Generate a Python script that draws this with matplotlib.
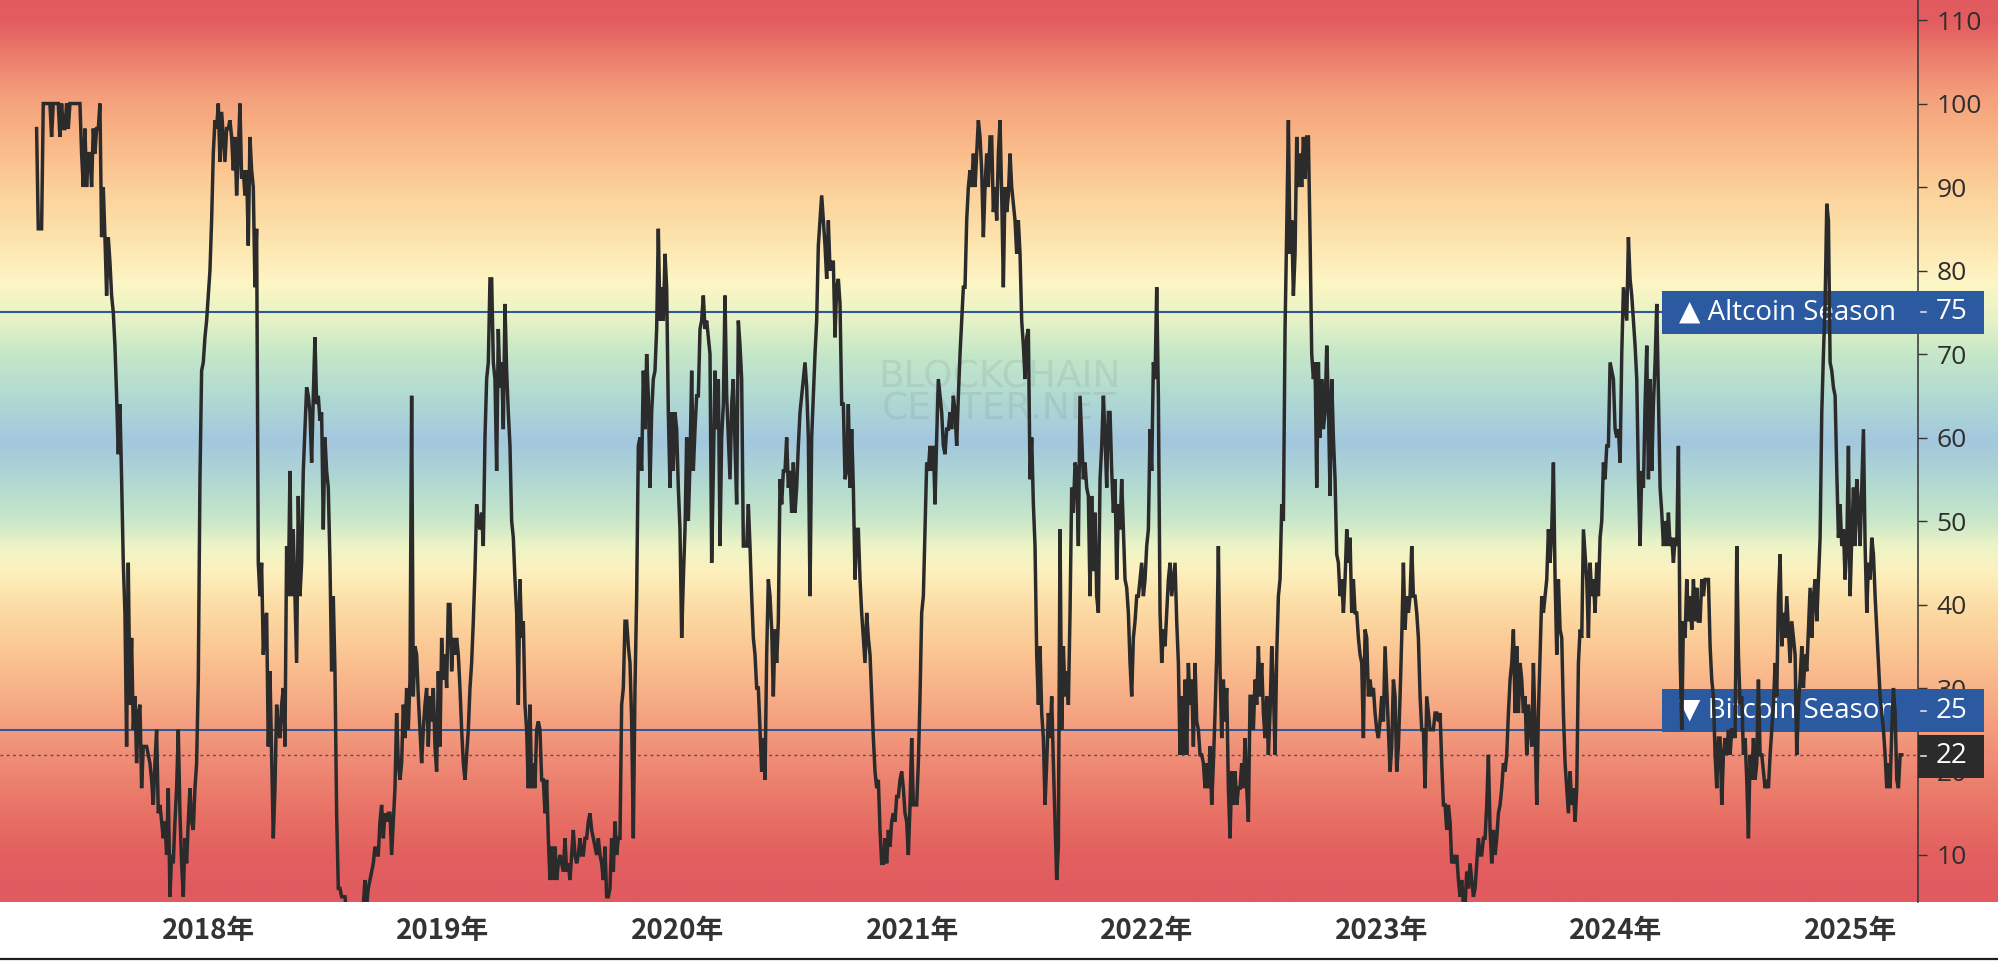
import matplotlib.pyplot as plt
import matplotlib.transforms as mtransforms
from matplotlib.colors import LinearSegmentedColormap
from matplotlib.patches import Rectangle
from matplotlib.lines import Line2D
import numpy as np
import pandas as pd

# Altcoin Season Index, every 2.6 days
start_date = '2017-04-08'
step = '3738min'

vals_2017 = [97, 85, 85, 85, 100, 100, 100, 100, 100, 96,
             100, 100, 100, 100, 96, 100, 97, 97, 100, 97,
             100, 100, 100, 100, 100, 100, 100, 94, 90, 97,
             90, 94, 94, 90, 97, 94, 97, 97, 100, 84,
             90, 84, 77, 84, 81, 77, 75, 71, 65, 58,
             64, 55, 45, 39, 23, 45, 28, 36, 25, 29,
             21, 27, 28, 18, 23, 23, 23, 22, 21, 19,
             16, 21, 25, 15, 16, 14, 12, 14, 10, 18,
             5, 10, 9, 14, 18, 25, 15, 9, 5, 12,
             9, 14, 18, 14, 13, 18, 21, 31, 55, 68,
             69, 72, 74, 77, 80, 86, 94, 98, 97, 100,
             93, 99, 96, 93, 97, 97, 98, 96, 92, 96,
             89, 94, 100, 91, 92, 89, 92, 83, 96, 92,
             90, 78, 85, 45, 41, 45, 34, 38, 39, 23,
             32, 22, 12, 18, 28, 25, 24, 28, 30, 23,
             47, 41, 56, 41, 49, 41, 33, 53, 41, 45,
             56, 61, 66, 65, 63, 57, 65, 72, 64, 65]

vals_2018 = [62, 63, 49, 60, 56, 54, 45, 32, 41, 32,
             15, 6, 6, 5, 5, 5, 3, 2, 3, 4,
             3, 2, 3, 4, 3, 2, 4, 7, 4, 6,
             7, 8, 9, 11, 10, 10, 14, 16, 12, 15,
             14, 15, 15, 10, 14, 18, 27, 21, 19, 21,
             28, 24, 30, 25, 31, 65, 29, 35, 34, 29,
             25, 21, 25, 28, 30, 23, 29, 26, 30, 23,
             20, 32, 23, 36, 31, 34, 30, 40, 40, 32,
             36, 34, 36, 34, 30, 25, 21, 19, 22, 25,
             30, 33, 38, 44, 52, 50, 49, 51, 47, 60,
             67, 69, 79, 79, 69, 67, 56, 73, 66, 69,
             61, 76, 68, 63, 59, 50, 48, 43, 39, 28,
             43, 36, 38, 28, 25, 18, 28, 18, 21, 18,
             25, 26, 25, 19, 19, 15, 19, 12, 7, 11,
             7, 11, 7, 9, 10, 9, 8, 12, 8, 9,
             7, 10, 13, 10, 9, 10, 12, 10, 10, 12,
             12, 14, 15, 13, 12, 11, 10, 12, 10, 9,
             7, 11, 5, 5, 6, 12, 8, 14, 10, 12,
             12, 28, 30, 38, 38, 35, 33, 26, 12, 30, 41, 59]

vals_2019 = [60, 56, 68, 61, 70, 65, 54, 63, 67, 68,
             73, 85, 74, 78, 74, 82, 78, 63, 54, 63,
             56, 63, 61, 54, 49, 36, 43, 49, 60, 50,
             57, 68, 56, 61, 65, 65, 73, 74, 77, 73,
             74, 72, 70, 45, 56, 68, 61, 67, 47, 60,
             64, 77, 65, 60, 55, 64, 67, 59, 52, 74,
             71, 67, 47, 47, 47, 52, 47, 41, 36, 34,
             30, 30, 25, 20, 24, 19, 34, 43, 41, 37,
             29, 37, 33, 38, 55, 52, 56, 56, 60, 54,
             56, 51, 57, 51, 54, 59, 63, 65, 67, 69,
             66, 60, 41, 60, 65, 70, 74, 83, 86, 89,
             86, 83, 79, 86, 80, 81, 81, 72, 78, 79,
             76, 64, 64, 55, 56, 64, 54, 61, 54, 43,
             49, 49, 43, 39, 36, 33, 39, 36, 34, 29,
             24, 20, 18, 19, 13, 9, 9, 12, 9, 13,
             11, 14, 15, 14, 17, 17, 19, 20, 18, 15,
             14, 10, 16, 24, 16, 16, 16, 21, 29, 39,
             41, 49, 57, 56, 59, 56, 59, 52, 60, 67,
             65, 63, 59, 58, 61, 61, 63, 61, 65, 63, 59, 65]

vals_2021 = [70, 74, 78, 78, 86, 90, 92, 90, 94, 90,
             94, 98, 96, 92, 84, 90, 94, 90, 96, 96,
             87, 90, 86, 94, 98, 89, 78, 90, 87, 89,
             94, 90, 88, 86, 82, 86, 82, 74, 71, 67,
             72, 73, 55, 60, 52, 47, 34, 28, 35, 27,
             24, 16, 21, 27, 24, 29, 21, 14, 7, 11,
             49, 25, 35, 29, 32, 28, 39, 54, 51, 57,
             56, 47, 65, 60, 55, 57, 54, 53, 41, 53,
             44, 51, 41, 39, 55, 59, 65, 60, 54, 63,
             63, 56, 51, 55, 43, 52, 49, 55, 49, 43,
             42, 39, 33, 29, 36, 38, 41, 41, 43, 45,
             41, 43, 47, 49, 61, 56, 69, 67, 78, 65,
             39, 33, 37, 35, 39, 43, 45, 41, 43, 45,
             38, 33, 22, 29, 22, 31, 22, 33, 28, 31,
             23, 33, 26, 25, 22, 22, 21, 18, 21, 18,
             23, 16, 21, 27, 34, 47, 32, 24, 31, 26,
             30, 18, 12, 20, 16, 20, 16, 18, 18, 21,
             18, 24, 18, 14, 29, 29, 25, 31, 28, 35,
             29, 33, 27, 24, 29, 22, 27, 35, 30, 22,
             34, 41, 43, 52, 50, 73, 85, 98, 82, 86,
             77, 82, 96, 90, 94, 90, 96, 91, 96, 96,
             84, 70, 67, 69, 54, 69, 60, 67, 61, 63,
             71, 64, 53, 67, 60, 55, 46, 45, 41, 43,
             39, 43, 49, 45, 48, 39, 43, 39, 39, 36,
             34, 33, 24, 37, 36, 29, 31, 29, 30, 27,
             25, 24, 26, 29, 26, 35, 30, 25, 20, 23,
             31, 29, 20, 23, 29, 36, 45, 37, 41, 39,
             41, 47, 41, 41, 39, 36, 29, 25, 25, 18,
             29, 27, 25, 25, 25, 27, 27, 26]

vals_2023 = [27, 21, 16, 16, 13, 16, 14, 9, 10, 9,
             10, 7, 5, 7, 4, 4, 8, 6, 9, 7,
             5, 6, 9, 12, 10, 10, 12, 12, 16, 22,
             13, 9, 13, 10, 12, 15, 16, 18, 21, 20,
             22, 27, 31, 33, 37, 27, 35, 27, 33, 31,
             27, 29, 22, 28, 25, 23, 33, 25, 16, 27,
             34, 41, 39, 41, 43, 49, 45, 49, 57, 43,
             34, 43, 37, 36, 27, 21, 18, 15, 20, 16,
             18, 14, 18, 33, 37, 36, 49, 46, 43, 36,
             45, 41, 43, 39, 45, 41, 48, 50, 57, 55,
             59, 59, 69, 68, 67, 61, 60, 61, 57, 70,
             78, 76, 74, 84, 79, 77, 74, 71, 67, 55,
             47, 56, 54, 64, 71, 55, 67, 56, 64, 69,
             76, 65, 54, 51, 47, 50, 47, 51, 47, 48,
             45, 48, 47, 59, 34, 25, 38, 36, 43, 38,
             41, 37, 43, 38, 42, 38, 38, 43, 41, 43,
             43, 43, 35, 31, 29, 22, 18, 24, 24, 16,
             22, 24, 22, 25, 22, 25, 25, 24, 47, 34,
             28, 29, 22, 24, 19, 12, 22, 19, 24, 19,
             21, 31, 22, 22, 20, 18, 19, 18, 22, 25,
             28, 33, 29, 41, 46, 35, 39, 36, 41, 37,
             33, 38, 36, 34, 22, 28, 31, 35, 30, 34,
             32, 37, 42, 36, 41, 43, 38, 43, 48, 63,
             70, 76, 88, 86, 69, 68, 66, 65, 56, 48,
             52, 47, 49, 43, 47, 59, 41, 48, 54, 47,
             55, 52, 47, 54, 61, 47, 39, 45, 43, 48,
             46, 41, 37, 33, 29, 27, 25, 22, 18, 21,
             18, 25, 30, 27, 19, 18, 22, 22]

index_values = vals_2017 + vals_2018 + vals_2019 + vals_2021 + vals_2023
dates = pd.date_range(start_date, periods=len(index_values), freq=step)

year_ticks = [2018, 2019, 2020, 2021, 2022, 2023, 2024, 2025]
year_labels = ['2018年', '2019年', '2020年', '2021年', '2022年', '2023年', '2024年', '2025年']
y_ticks = [10, 20, 30, 40, 50, 60, 70, 80, 90, 100, 110]
altcoin_level = 75
bitcoin_level = 25
last_value = 22

# background bands (value, colour)
band_stops = [(4.37, '#e05a5f'), (10, '#e3605f'), (16, '#e97668'), (22, '#f08f78'),
              (28, '#f6aa84'), (34, '#fbc592'), (40, '#fddea6'), (44, '#fdf1bf'),
              (47, '#edf4c6'), (50, '#c9e7c9'), (54, '#b3dbd0'), (59.5, '#a3c7de'),
              (65, '#b1dad2'), (70, '#c5e7c8'), (74, '#e5f2c6'), (78.5, '#fdf6c5'),
              (84, '#fde3ad'), (90, '#fcd09a'), (96, '#f9b686'), (101, '#f4a07c'),
              (106, '#ec7d6d'), (110, '#e35d60'), (112.4, '#e05a5f')]

W, H = 1999, 961
ymin, ymax = 4.37, 112.4
plot_h = 902 / H
plot_b = 1 - plot_h
ax_w = 1918 / W

fig = plt.figure(figsize=(W / 100, H / 100), dpi=100)
fig.patch.set_facecolor('white')

# gradient covering the full width, tick labels sit on it too
bg = fig.add_axes([0, plot_b, 1, plot_h])
bg.set_axis_off()
cmap = LinearSegmentedColormap.from_list(
    'bands', [((v - ymin) / (ymax - ymin), c) for v, c in band_stops])
grad = np.linspace(ymin, ymax, 800).reshape(-1, 1)
bg.imshow(grad, aspect='auto', cmap=cmap, origin='lower',
          extent=[0, 1, ymin, ymax], vmin=ymin, vmax=ymax)
bg.set_xlim(0, 1)
bg.set_ylim(ymin, ymax)
bg.text(1000 / W, (902 - 377) / 902, 'BLOCKCHAIN', transform=bg.transAxes,
        ha='center', va='center', fontsize=27, color='#6f7f80', alpha=0.15,
        family='DejaVu Sans')
bg.text(1000 / W, (902 - 410) / 902, 'CENTER.NET', transform=bg.transAxes,
        ha='center', va='center', fontsize=27, color='#6f7f80', alpha=0.15,
        family='DejaVu Sans')

ax = fig.add_axes([0, plot_b, ax_w, plot_h])
ax.patch.set_alpha(0)
ax.plot(dates, index_values, color='#2b2b2b', lw=2.5, zorder=5,
        solid_joinstyle='miter')
ax.set_xlim(pd.Timestamp('2017-02-10'), pd.Timestamp('2025-04-16'))
ax.set_ylim(ymin, ymax)

ax.axhline(altcoin_level, color='#2c5aa0', lw=1.5, zorder=2)
ax.axhline(bitcoin_level, color='#2c5aa0', lw=1.5, zorder=2)
ax.axhline(last_value, color='#6a4a44', lw=1.0, ls=(0, (2, 2.5)), zorder=2)

for s in ['left', 'top', 'bottom']:
    ax.spines[s].set_visible(False)
ax.spines['right'].set_color('#333333')
ax.spines['right'].set_linewidth(1.1)

ax.yaxis.tick_right()
ax.set_yticks(y_ticks)
ax.set_yticklabels([str(t) for t in y_ticks])
ax.tick_params(axis='y', length=6.5, width=1, color='#333333', pad=7,
               labelsize=19, labelcolor='#2e2e2e')
for lbl in ax.get_yticklabels():
    lbl.set_family('Open Sans')

ax.set_xticks([pd.Timestamp(f'{y}-01-01') for y in year_ticks])
ax.set_xticklabels(year_labels, fontsize=20, fontweight='bold', color='#333333',
                   family=['Noto Sans CJK SC', 'DejaVu Sans'])
ax.tick_params(axis='x', length=0, pad=11)

# price-scale labels on the right
trans = mtransforms.blended_transform_factory(ax.transAxes, ax.transData)
box_h = 43 / 8.35


def scale_label(y_box, text, value, face):
    x_left = 1662 / 1918 if text else 1.0
    ax.add_patch(Rectangle((x_left, y_box - box_h / 2), 1984 / 1918 - x_left, box_h,
                           transform=trans, facecolor=face, edgecolor='none',
                           clip_on=False, zorder=3))
    if text:
        ax.text(1679 / 1918, y_box, text, transform=trans, color='white',
                fontsize=20, ha='left', va='center', zorder=4, clip_on=False,
                family=['Open Sans', 'DejaVu Sans'])
    ax.text(1936 / 1918, y_box, value, transform=trans, color='white',
            fontsize=20, ha='left', va='center', zorder=4, clip_on=False,
            family='Open Sans')
    ax.plot([1.0015, 1926 / 1918], [y_box, y_box], transform=trans,
            color='#dddddd', lw=1.2, clip_on=False, zorder=4)


scale_label(altcoin_level, '▲ Altcoin Season', str(altcoin_level), '#2c5aa0')
scale_label(27.25, '▼ Bitcoin Season', str(bitcoin_level), '#2c5aa0')
scale_label(last_value - 0.15, '', str(last_value), '#2b2b2b')

fig.add_artist(Line2D([0, 1], [2.5 / H, 2.5 / H], transform=fig.transFigure,
                      color='#1e1e1e', lw=1.6))

fig.savefig('out.png', dpi=100)
